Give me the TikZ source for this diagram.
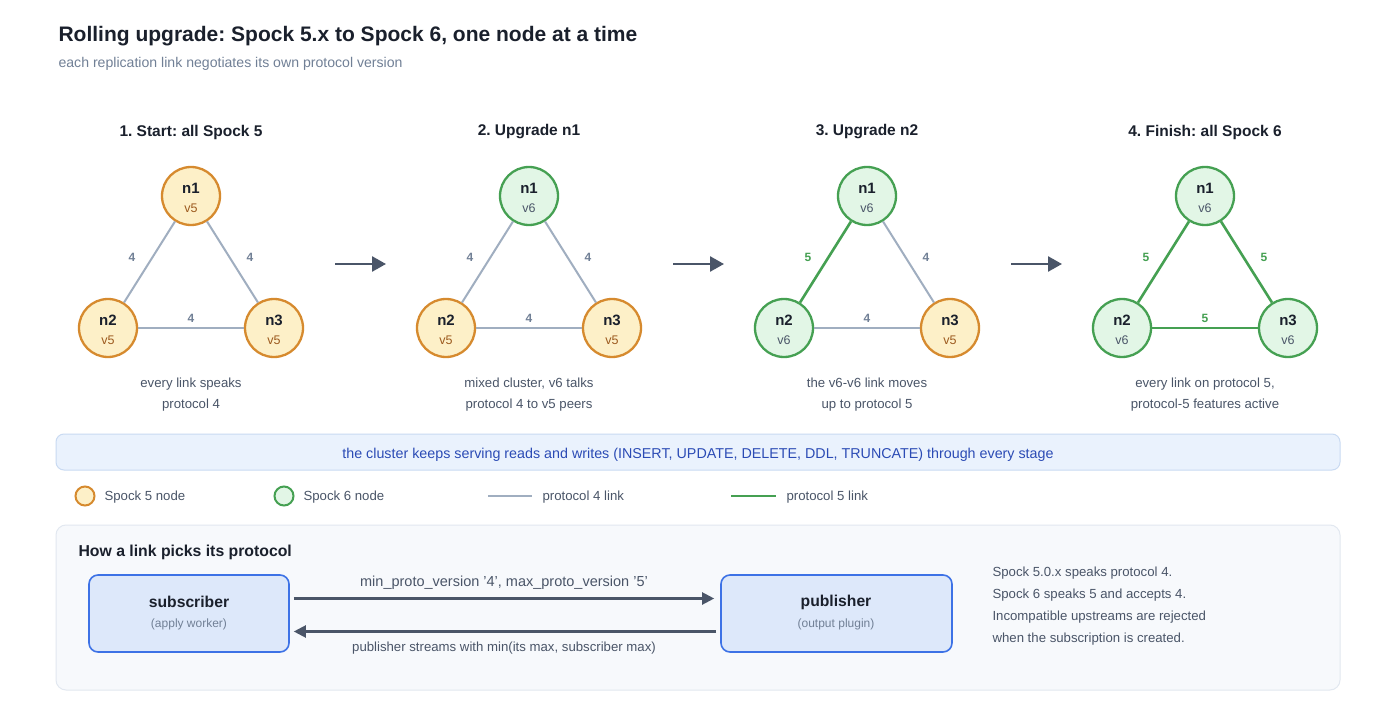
\documentclass[tikz,border=0pt]{standalone}
\usepackage{fontspec}
\setmainfont{Liberation Sans}
\frenchspacing
\usetikzlibrary{arrows.meta}
\definecolor{ink}{HTML}{1A202C}
\definecolor{sub}{HTML}{718096}
\definecolor{cap}{HTML}{4A5568}
\definecolor{yfill}{HTML}{FDF0C8}
\definecolor{ystroke}{HTML}{D68A2E}
\definecolor{vfive}{HTML}{9C5A1E}
\definecolor{gfill}{HTML}{E2F6E6}
\definecolor{gstroke}{HTML}{45A052}
\definecolor{vsix}{HTML}{4A5568}
\definecolor{pfour}{HTML}{A0AEC0}
\definecolor{bannerfill}{HTML}{EAF2FD}
\definecolor{bannerline}{HTML}{C9DAF2}
\definecolor{bannertext}{HTML}{2B4BB5}
\definecolor{panelfill}{HTML}{F7F9FC}
\definecolor{panelline}{HTML}{E2E8F0}
\definecolor{boxfill}{HTML}{DDE8FA}
\definecolor{boxline}{HTML}{3D72E6}
\definecolor{arr}{HTML}{4A5568}
\tikzset{
  vfivenode/.style={circle,draw=ystroke,fill=yfill,line width=2.3pt,minimum size=58pt,inner sep=0pt,align=center,text=ink},
  vsixnode/.style={circle,draw=gstroke,fill=gfill,line width=2.3pt,minimum size=58pt,inner sep=0pt,align=center,text=ink},
  pfourlink/.style={draw=pfour,line width=2pt},
  pfivelink/.style={draw=gstroke,line width=2.6pt},
  lbfour/.style={font=\fontsize{12}{14}\selectfont\bfseries,text=sub},
  lbfive/.style={font=\fontsize{12}{14}\selectfont\bfseries,text=gstroke},
  stagetitle/.style={font=\fontsize{15.5}{18}\selectfont\bfseries,text=ink},
  captxt/.style={font=\fontsize{13.2}{21}\selectfont,text=cap,align=center},
  stagearrow/.style={draw=arr,line width=2.6pt,-{Triangle[length=14pt,width=15pt]}},
  flowarrow/.style={draw=arr,line width=2.1pt,-{Triangle[length=12pt,width=12pt]}},
  legtxt/.style={font=\fontsize{13.2}{15}\selectfont,text=cap,anchor=west},
  roleBox/.style={draw=boxline,fill=boxfill,line width=1.6pt,rounded corners=9pt,minimum width=200pt,minimum height=77pt}
}
\newcommand{\nlab}[2]{{\fontsize{15}{17}\selectfont\bfseries\rule{0pt}{15pt}n#1}\\[7pt]{\fontsize{12.5}{14}\selectfont #2}}
\begin{document}
\begin{tikzpicture}[x=1pt,y=-1pt]
\useasboundingbox (0,0) rectangle (1398,714);
\fill[white] (0,0) rectangle (1398,714);
% titles
\node[anchor=west,font=\fontsize{21}{25}\selectfont\bfseries,text=ink] (title) at (55,36) {Rolling upgrade: Spock 5.x to Spock 6, one node at a time};
\node[anchor=west,font=\fontsize{14.1}{17}\selectfont,text=sub] (subtitle) at (55,64) {each replication link negotiates its own protocol version};

% stage 1
\node[stagetitle] (t1) at (191,132) {1. Start: all Spock 5};
\node[vfivenode] (a1) at (191,196) {\nlab{1}{\textcolor{vfive}{v5}}};
\node[vfivenode] (a2) at (108,328) {\nlab{2}{\textcolor{vfive}{v5}}};
\node[vfivenode] (a3) at (274,328) {\nlab{3}{\textcolor{vfive}{v5}}};
\path[pfourlink] (a1) -- (a2);
\path[pfourlink] (a1) -- (a3);
\path[pfourlink] (a2) -- (a3);
\node[lbfour] (a12) at (132,257) {4};
\node[lbfour] (a13) at (250,257) {4};
\node[lbfour] (a23) at (191,318) {4};
\node[captxt] (c1) at (191,395) {every link speaks\\protocol 4};

% stage 2
\node[stagetitle] (t2) at (529,132) {2. Upgrade n1};
\node[vsixnode] (b1) at (529,196) {\nlab{1}{\textcolor{vsix}{v6}}};
\node[vfivenode] (b2) at (446,328) {\nlab{2}{\textcolor{vfive}{v5}}};
\node[vfivenode] (b3) at (612,328) {\nlab{3}{\textcolor{vfive}{v5}}};
\path[pfourlink] (b1) -- (b2);
\path[pfourlink] (b1) -- (b3);
\path[pfourlink] (b2) -- (b3);
\node[lbfour] (b12) at (470,257) {4};
\node[lbfour] (b13) at (588,257) {4};
\node[lbfour] (b23) at (529,318) {4};
\node[captxt] (c2) at (529,395) {mixed cluster, v6 talks\\protocol 4 to v5 peers};

% stage 3
\node[stagetitle] (t3) at (867,132) {3. Upgrade n2};
\node[vsixnode] (d1) at (867,196) {\nlab{1}{\textcolor{vsix}{v6}}};
\node[vsixnode] (d2) at (784,328) {\nlab{2}{\textcolor{vsix}{v6}}};
\node[vfivenode] (d3) at (950,328) {\nlab{3}{\textcolor{vfive}{v5}}};
\path[pfivelink] (d1) -- (d2);
\path[pfourlink] (d1) -- (d3);
\path[pfourlink] (d2) -- (d3);
\node[lbfive] (d12) at (808,257) {5};
\node[lbfour] (d13) at (926,257) {4};
\node[lbfour] (d23) at (867,318) {4};
\node[captxt] (c3) at (867,395) {the v6-v6 link moves\\up to protocol 5};

% stage 4
\node[stagetitle] (t4) at (1205,132) {4. Finish: all Spock 6};
\node[vsixnode] (e1) at (1205,196) {\nlab{1}{\textcolor{vsix}{v6}}};
\node[vsixnode] (e2) at (1122,328) {\nlab{2}{\textcolor{vsix}{v6}}};
\node[vsixnode] (e3) at (1288,328) {\nlab{3}{\textcolor{vsix}{v6}}};
\path[pfivelink] (e1) -- (e2);
\path[pfivelink] (e1) -- (e3);
\path[pfivelink] (e2) -- (e3);
\node[lbfive] (e12) at (1146,257) {5};
\node[lbfive] (e13) at (1264,257) {5};
\node[lbfive] (e23) at (1205,318) {5};
\node[captxt] (c4) at (1205,395) {every link on protocol 5,\\protocol-5 features active};

% stage arrows
\coordinate (s1a) at (335,264); \coordinate (s1b) at (386,264);
\coordinate (s2a) at (673,264); \coordinate (s2b) at (724,264);
\coordinate (s3a) at (1011,264); \coordinate (s3b) at (1062,264);
\draw[stagearrow] (s1a) -- (s1b);
\draw[stagearrow] (s2a) -- (s2b);
\draw[stagearrow] (s3a) -- (s3b);

% banner
\draw[draw=bannerline,fill=bannerfill,line width=1pt,rounded corners=8pt] (56,434) rectangle (1340,470);
\node[font=\fontsize{14.3}{17}\selectfont,text=bannertext] (banner) at (698,454.5) {the cluster keeps serving reads and writes (INSERT, UPDATE, DELETE, DDL, TRUNCATE) through every stage};

% legend
\node[circle,draw=ystroke,fill=yfill,line width=2pt,minimum size=19pt,inner sep=0pt] (lg1) at (85,496) {};
\node[legtxt] (lg1t) at (101,497.5) {Spock 5 node};
\node[circle,draw=gstroke,fill=gfill,line width=2pt,minimum size=19pt,inner sep=0pt] (lg2) at (284,496) {};
\node[legtxt] (lg2t) at (300,497.5) {Spock 6 node};
\coordinate (lg3a) at (488,496); \coordinate (lg3b) at (532,496);
\draw[pfourlink] (lg3a) -- (lg3b);
\node[legtxt] (lg3t) at (539,497.5) {protocol 4 link};
\coordinate (lg4a) at (731,496); \coordinate (lg4b) at (776,496);
\draw[pfivelink] (lg4a) -- (lg4b);
\node[legtxt] (lg4t) at (783,497.5) {protocol 5 link};

% bottom panel
\draw[draw=panelline,fill=panelfill,line width=1pt,rounded corners=10pt] (56,525) rectangle (1340,690);
\node[anchor=west,font=\fontsize{15.8}{18}\selectfont\bfseries,text=ink] (ptitle) at (75,552) {How a link picks its protocol};
\node[roleBox] (subs) at (189,613.5) {};
\node[font=\fontsize{15.7}{18}\selectfont\bfseries,text=ink] (subsT) at (189,602) {subscriber};
\node[font=\fontsize{12}{14}\selectfont,text=sub] (subsS) at (189,624) {(apply worker)};
\node[roleBox,minimum width=231pt] (pub) at (836.5,613.5) {};
\node[font=\fontsize{15.7}{18}\selectfont\bfseries,text=ink] (pubT) at (836,602) {publisher};
\node[font=\fontsize{12}{14}\selectfont,text=sub] (pubS) at (836,624) {(output plugin)};
\draw[flowarrow] ([shift={(4,-15)}]subs.east) -- ([shift={(-6,-15)}]pub.west);
\draw[flowarrow] ([shift={(-4,18)}]pub.west) -- ([shift={(4,18)}]subs.east);
\node[font=\fontsize{14.5}{17}\selectfont,text=cap] (upl) at (504,583) {min\_proto\_version '4', max\_proto\_version '5'};
\node[font=\fontsize{13.2}{15}\selectfont,text=cap] (dnl) at (504,648.5) {publisher streams with min(its max, subscriber max)};
\node[anchor=north west,align=left,font=\fontsize{13.2}{22}\selectfont,text=cap] (note) at (989,563) {Spock 5.0.x speaks protocol 4.\\Spock 6 speaks 5 and accepts 4.\\Incompatible upstreams are rejected\\when the subscription is created.};
\end{tikzpicture}
\end{document}
